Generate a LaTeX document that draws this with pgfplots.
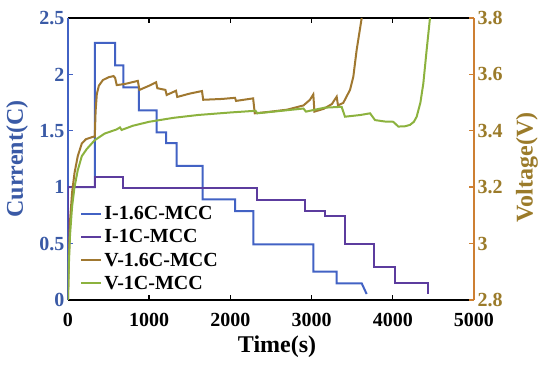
\documentclass[border=0pt]{standalone}
\usepackage{fontspec}
\setmainfont{Liberation Serif}
\usepackage{pgfplots}
\pgfplotsset{compat=1.18}
\definecolor{cblue}{RGB}{66,98,196}
\definecolor{cpurple}{RGB}{92,60,158}
\definecolor{cbrown}{RGB}{160,120,48}
\definecolor{cgreen}{RGB}{140,178,62}
\definecolor{labblue}{RGB}{58,90,166}
\definecolor{labolive}{RGB}{155,123,42}
\definecolor{corange}{RGB}{205,127,50}
\newcommand\tf{\bfseries\fontsize{20}{24}\selectfont}
\newcommand\lf{\bfseries\fontsize{24}{28}\selectfont}
\begin{document}
\begin{tikzpicture}
\begin{axis}[
  at={(0,0)}, anchor=south west,
  scale only axis, width=406pt, height=282pt,
  xmin=0, xmax=5000, ymin=0, ymax=2.5,
  axis y line*=left,
  xtick={0,1000,2000,3000,4000,5000},
  ytick={0,0.5,1,1.5,2,2.5},
  tick align=inside, major tick length=5pt,
  x axis line style={black, line width=1.6pt},
  y axis line style={draw=cblue, line width=1.6pt},
  xtick style={black, line width=1.4pt},
  ytick style={cblue, line width=1.4pt},
  /pgf/number format/assume math mode=true,
  /pgf/number format/1000 sep={},
  xticklabel style={font=\tf, inner ysep=0pt, yshift=-12.5pt},
  yticklabel style={font=\tf, text=labblue, inner ysep=0pt},
  xlabel={Time(s)},
  xlabel style={font=\lf, at={(axis description cs:0.515,-0.165)}, anchor=center},
  ylabel={Current(C)},
  ylabel style={font=\lf, text=labblue, at={(axis description cs:-0.1256,0.5)}, anchor=center},
  legend style={at={(axis description cs:0.03,0.34)}, anchor=north west, draw=none, fill=none, font=\tf, row sep=4.5pt, inner sep=0pt, cells={anchor=west}},
  legend image code/.code={\draw[#1, line width=2pt] (0pt,0pt) -- (20pt,0pt);},
]
\addlegendimage{cblue}
\addlegendentry{I-1.6C-MCC}
\addlegendimage{cpurple}
\addlegendentry{I-1C-MCC}
\addlegendimage{cbrown}
\addlegendentry{V-1.6C-MCC}
\addlegendimage{cgreen}
\addlegendentry{V-1C-MCC}
\addplot[cblue, line width=2pt] coordinates {
(0,0) (0,1.0) (330,1.0) (330,2.28) (579,2.28) (579,2.08) (681,2.08) (681,1.886)
(874,1.886) (874,1.68) (1092,1.68) (1092,1.487) (1207,1.487) (1207,1.39)
(1338,1.39) (1338,1.19) (1658,1.19) (1658,0.893) (2057,0.893) (2057,0.789)
(2283,0.789) (2283,0.494) (3021,0.494) (3021,0.251) (3309,0.251) (3309,0.148)
(3617,0.148) (3678,0.053)};
\addplot[cpurple, line width=2pt] coordinates {
(0,0) (0,1.0) (330,1.0) (330,1.093) (673,1.093) (673,0.995) (2323,0.995)
(2323,0.887) (2919,0.887) (2919,0.789) (3165,0.789) (3165,0.745) (3411,0.745)
(3411,0.494) (3768,0.494) (3768,0.295) (4027,0.295) (4027,0.148) (4437,0.148)
(4437,0.053)};
\end{axis}
\begin{axis}[
  at={(0,0)}, anchor=south west,
  scale only axis, width=406pt, height=282pt,
  xmin=0, xmax=5000, ymin=2.8, ymax=3.8,
  axis y line*=right, axis x line=none,
  ytick={2.8,3,3.2,3.4,3.6,3.8},
  tick align=inside, major tick length=5pt,
  y axis line style={draw=corange, line width=1.6pt},
  ytick style={corange, line width=1.4pt},
  /pgf/number format/assume math mode=true,
  yticklabel style={font=\tf, text=labolive, inner ysep=0pt},
  ylabel={Voltage(V)},
  ylabel style={font=\lf, text=labolive, at={(axis description cs:1.1305,0.47)}, anchor=center, rotate=0},
]
\addplot[cbrown, line width=2pt] coordinates {
(0,2.8) (10,2.95) (25,3.08) (50,3.18) (80,3.25) (120,3.31) (170,3.355) (220,3.37)
(300,3.378) (330,3.38) (340,3.47) (355,3.53) (380,3.56) (430,3.58) (500,3.59)
(560,3.594) (580,3.588) (600,3.562) (700,3.566) (860,3.577) (880,3.545) (1000,3.56)
(1085,3.572) (1100,3.551) (1200,3.545) (1215,3.527) (1330,3.542) (1345,3.52)
(1500,3.532) (1650,3.541) (1665,3.51) (1900,3.513) (2057,3.517) (2070,3.506)
(2280,3.515) (2300,3.462) (2500,3.468) (2700,3.475) (2900,3.49) (2980,3.51)
(3021,3.529) (3035,3.468) (3150,3.478) (3250,3.495) (3309,3.521) (3325,3.49)
(3390,3.499) (3473,3.545) (3514,3.592) (3555,3.687) (3617,3.8)};
\addplot[cgreen, line width=2pt] coordinates {
(0,2.8) (10,2.92) (25,3.03) (50,3.13) (80,3.2) (120,3.26) (170,3.31) (230,3.335)
(330,3.367) (450,3.39) (600,3.405) (640,3.412) (660,3.403) (800,3.418)
(1000,3.432) (1300,3.446) (1600,3.456) (2000,3.465) (2310,3.471) (2330,3.462)
(2600,3.47) (2900,3.479) (2930,3.468) (3160,3.482) (3370,3.485) (3411,3.45)
(3600,3.456) (3720,3.462) (3781,3.438) (3900,3.433) (4006,3.432) (4068,3.415)
(4150,3.416) (4212,3.421) (4260,3.432) (4294,3.45) (4340,3.5) (4376,3.568)
(4417,3.687) (4458,3.8)};
\end{axis}
\pgfresetboundingbox
\path (-68pt,-67pt) rectangle (482pt,300pt);
\end{tikzpicture}
\end{document}
